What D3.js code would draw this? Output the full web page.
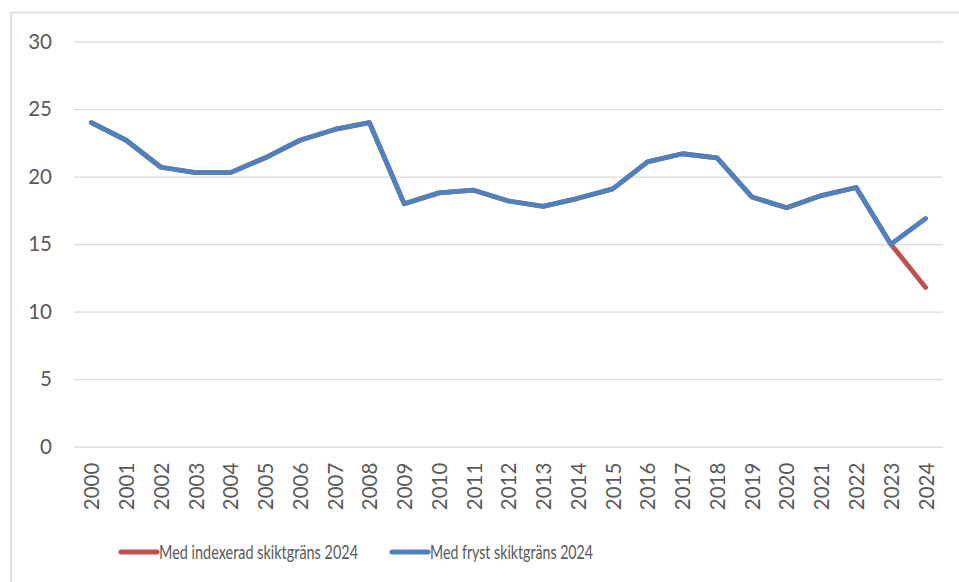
<!DOCTYPE html>
<html>
<head>
<meta charset="utf-8">
<script src="https://cdn.jsdelivr.net/npm/d3@7"></script>
<style>
  body { margin: 0; background: #fff; }
  svg { display: block; font-family: Lato, "Open Sans", sans-serif; }
</style>
</head>
<body>
<svg id="chart" width="959" height="582"></svg>
<script>
// years on the x axis
const years = d3.range(2000, 2025).map(String)

// blue series: frozen threshold
const fryst = [24.0, 22.7, 20.7, 20.3, 20.3, 21.4, 22.7, 23.5, 24.0, 18.0, 18.8, 19.0, 18.2,
    17.8, 18.4, 19.1, 21.1, 21.7, 21.4, 18.5, 17.7, 18.6, 19.2, 15.0, 16.9]

// red series: indexed threshold (same as blue up to 2023)
const indexerad = [24.0, 22.7, 20.7, 20.3, 20.3, 21.4, 22.7, 23.5, 24.0, 18.0, 18.8, 19.0, 18.2,
    17.8, 18.4, 19.1, 21.1, 21.7, 21.4, 18.5, 17.7, 18.6, 19.2, 15.0, 11.8]

const yTicks = [0, 5, 10, 15, 20, 25, 30]

const legendItems = [
    { label: 'Med indexerad skiktgräns 2024', color: '#C0504D' },
    { label: 'Med fryst skiktgräns 2024', color: '#4F81BD' }
]

const svg = d3.select('#chart')
const textColor = '#595959'
const gridColor = '#d9d9d9'

// chart area frame (runs off the right / bottom of the picture)
svg.append('rect')
    .attr('x', 11).attr('y', 12.5)
    .attr('width', 1000).attr('height', 700)
    .attr('fill', 'none')
    .attr('stroke', gridColor)
    .attr('stroke-width', 1.5)

const plot = { left: 74, right: 943, top: 41.7, bottom: 446.7 }

const x = d3.scalePoint().domain(years).range([plot.left, plot.right]).padding(0.5)
const y = d3.scaleLinear().domain([0, 30]).range([plot.bottom, plot.top])

// y axis + gridlines
const yAxis = svg.append('g')
    .attr('transform', `translate(${plot.left},0)`)
    .call(d3.axisLeft(y).tickValues(yTicks).tickSize(-(plot.right - plot.left)).tickPadding(22))
yAxis.select('.domain').remove()
yAxis.selectAll('line').attr('stroke', gridColor).attr('stroke-width', 1.3)
yAxis.selectAll('text')
    .attr('fill', textColor)
    .attr('font-size', '20.5px')
    .attr('font-family', 'Lato, sans-serif')

// x axis, labels rotated
const xAxis = svg.append('g')
    .attr('transform', `translate(0,${plot.bottom})`)
    .call(d3.axisBottom(x).tickSize(0))
xAxis.select('.domain').remove()
xAxis.selectAll('text')
    .attr('fill', textColor)
    .attr('font-size', '20.5px')
    .attr('font-family', 'Lato, sans-serif')
    .attr('text-anchor', 'end')
    .attr('transform', 'rotate(-90)')
    .attr('x', -16)
    .attr('y', 0)
    .attr('dy', '0.36em')

const line = d3.line()
    .x((d, i) => x(years[i]))
    .y(d => y(d))

// red first, blue drawn on top
;[[indexerad, '#C0504D'], [fryst, '#4F81BD']].forEach(([data, color]) => {
    svg.append('path')
        .datum(data)
        .attr('d', line)
        .attr('fill', 'none')
        .attr('stroke', color)
        .attr('stroke-width', 4.8)
        .attr('stroke-linejoin', 'round')
        .attr('stroke-linecap', 'round')
})

// legend (text squeezed to the narrow width of the original font)
const legendX = [121, 392]
const legendW = [199, 163]
const legend = svg.append('g')
legendItems.forEach((item, i) => {
    const g = legend.append('g').attr('transform', `translate(${legendX[i]},552)`)
    g.append('line')
        .attr('x1', 0).attr('x2', 36)
        .attr('stroke', item.color)
        .attr('stroke-width', 5)
        .attr('stroke-linecap', 'round')
    g.append('text')
        .attr('x', 38)
        .attr('y', 7)
        .attr('fill', textColor)
        .attr('font-size', '19px')
        .attr('textLength', legendW[i])
        .attr('lengthAdjust', 'spacingAndGlyphs')
        .text(item.label)
})
</script>
</body>
</html>
